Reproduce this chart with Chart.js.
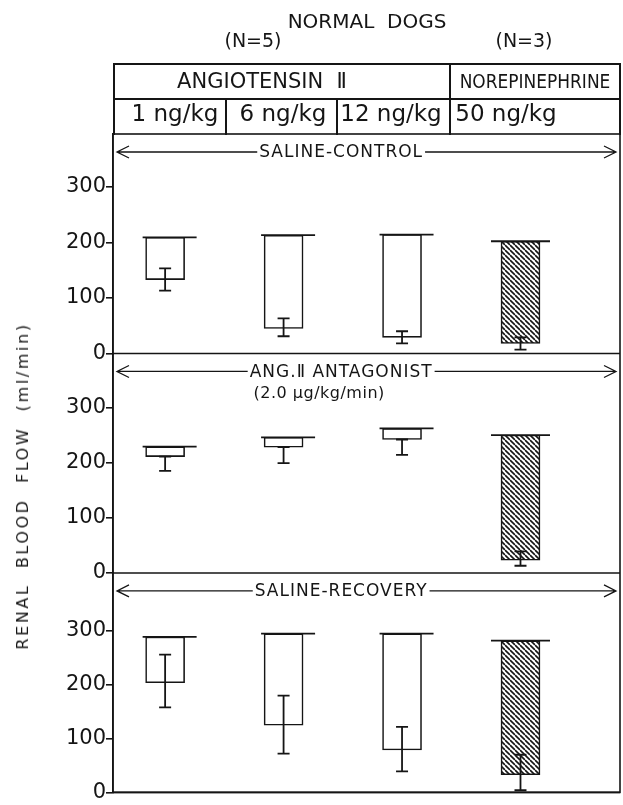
<!DOCTYPE html>
<html>
<head>
<meta charset="utf-8">
<script src="https://cdn.jsdelivr.net/npm/chart.js@4/dist/chart.umd.min.js"></script>
<style>
  body { margin: 0; background: #fff; }
  #wrap { position: relative; width: 623px; height: 805px; overflow: hidden; font-family: "DejaVu Sans", sans-serif; color: #151515; }
  #flow { position: absolute; left: 0; top: 0; }
  .c { position: absolute; white-space: pre; line-height: 1; transform: translate(-50%, -50%); }
  .ln { position: absolute; background: #151515; }
</style>
</head>
<body>
<div id="wrap">
  <canvas id="flow" width="623" height="805"></canvas>

  <div class="c" style="left:367px; top:21px; font-size:20px;">NORMAL  DOGS</div>
  <div class="c" style="left:253px; top:40px; font-size:19px;">(N=5)</div>
  <div class="c" style="left:524px; top:40px; font-size:19px;">(N=3)</div>

  <div class="ln" style="left:113px; top:63px; width:507px; height:1.5px;"></div>
  <div class="ln" style="left:113px; top:98px; width:507px; height:1.5px;"></div>
  <div class="ln" style="left:113px; top:63px; width:1.5px; height:72px;"></div>
  <div class="ln" style="left:619px; top:63px; width:1.5px; height:72px;"></div>
  <div class="ln" style="left:449px; top:63px; width:1.5px; height:72px;"></div>
  <div class="ln" style="left:225px; top:98px; width:1.5px; height:37px;"></div>
  <div class="ln" style="left:336px; top:98px; width:1.5px; height:37px;"></div>

  <div class="c" style="left:262px; top:81px; font-size:21px;">ANGIOTENSIN  Ⅱ</div>
  <div class="c" style="left:535px; top:81px; font-size:20px; transform:translate(-50%,-50%) scaleX(0.85);">NOREPINEPHRINE</div>

  <div class="c" style="left:23px; top:486px; font-size:16px; letter-spacing:2.6px; transform:translate(-50%,-50%) rotate(-90deg);">RENAL  BLOOD  FLOW  (ml/min)</div>
</div>

<script>
var ink = "#151515";

var doses = ["1 ng/kg", "6 ng/kg", "12 ng/kg", "50 ng/kg"];
var panelTitles = ["SALINE-CONTROL", "ANG.Ⅱ ANTAGONIST", "SALINE-RECOVERY"];
var antagonistDose = "(2.0 µg/kg/min)";
var yTicks = [0, 100, 200, 300];

// renal blood flow, ml/min: before infusion (bar top) and during infusion (bar bottom)
var controlBefore = [209, 213, 214, 202];
var controlDuring = [133, 45, 29, 18];
var controlErrLow = [113, 31, 18, 7];
var controlErrHigh = [153, 63, 40, 29];

var antagBefore = [229, 246, 262, 250];
var antagDuring = [211, 228, 242, 23];
var antagErrLow = [185, 199, 214, 13];
var antagErrHigh = [211, 228, 242, 39];

var recovBefore = [289, 295, 295, 282];
var recovDuring = [204, 125, 79, 33];
var recovErrLow = [158, 72, 39, 4];
var recovErrHigh = [256, 180, 122, 70];

// dose labels in the header row
var doseCenters = [175, 283, 391, 506];
doses.forEach(function(d, i) {
  var el = document.createElement("div");
  el.className = "c";
  el.style.left = doseCenters[i] + "px";
  el.style.top = "113px";
  el.style.fontSize = "23px";
  el.textContent = d;
  document.getElementById("wrap").appendChild(el);
});

function hatch() {
  var c = document.createElement("canvas");
  c.width = c.height = 5;
  var g = c.getContext("2d");
  g.fillStyle = "#fff";
  g.fillRect(0, 0, 5, 5);
  g.strokeStyle = ink;
  g.lineWidth = 1.6;
  g.beginPath();
  [-5, 0, 5].forEach(function(k) {
    g.moveTo(0, k);
    g.lineTo(5, 5 + k);
  });
  g.stroke();
  return g.createPattern(c, "repeat");
}
var fills = ["#fff", "#fff", "#fff", hatch()];

function panel(axis, before, during, lo, hi) {
  return {
    yAxisID : axis,
    data : doses.map(function(d, i) { return { x : i, y : [during[i], before[i]] }; }),
    errLow : lo,
    errHigh : hi,
    backgroundColor : fills,
    borderColor : ink,
    borderWidth : 1.6,
    borderSkipped : false,
    barThickness : 39,
    grouped : false
  };
}

function yAxis(max) {
  return {
    type : "linear",
    stack : "flow",
    stackWeight : 1,
    position : "left",
    min : 0,
    max : max,
    border : { display : true, color : ink, width : 1.6 },
    grid : { drawOnChartArea : false, drawTicks : true, tickLength : 7, color : ink, lineWidth : 1.6 },
    ticks : { color : ink, padding : 0, font : { family : "DejaVu Sans", size : 21 } },
    afterBuildTicks : function(s) { s.ticks = yTicks.map(function(v) { return { value : v }; }); },
    afterFit : function(s) { s.width = 83; }
  };
}

var overlay = {
  id : "overlay",
  afterDatasetsDraw : function(chart) {
    var ctx = chart.ctx, area = chart.chartArea;
    ctx.save();
    ctx.strokeStyle = ink;
    ctx.fillStyle = ink;

    chart.data.datasets.forEach(function(ds, d) {
      var ys = chart.scales[ds.yAxisID];
      chart.getDatasetMeta(d).data.forEach(function(bar, i) {
        var half = bar.width / 2;
        var wide = i === 3;
        ctx.lineWidth = 1.8;
        ctx.beginPath();
        ctx.moveTo(bar.x - half - (wide ? 10 : 3), bar.y);
        ctx.lineTo(bar.x + half + (wide ? 10 : 12), bar.y);
        ctx.stroke();

        var pLo = ys.getPixelForValue(ds.errLow[i]);
        var pHi = ys.getPixelForValue(ds.errHigh[i]);
        ctx.beginPath();
        ctx.moveTo(bar.x, pLo);
        ctx.lineTo(bar.x, pHi);
        ctx.moveTo(bar.x - 6, pLo);
        ctx.lineTo(bar.x + 6, pLo);
        ctx.moveTo(bar.x - 6, pHi);
        ctx.lineTo(bar.x + 6, pHi);
        ctx.stroke();
      });
    });

    ctx.lineWidth = 1.6;
    ctx.strokeRect(area.left, area.top, area.width, area.height);

    ctx.textAlign = "center";
    ctx.textBaseline = "middle";
    ["y1", "y2", "y3"].forEach(function(id, p) {
      var s = chart.scales[id];
      ctx.lineWidth = 1.6;
      ctx.beginPath();
      ctx.moveTo(area.left, s.bottom);
      ctx.lineTo(area.right, s.bottom);
      ctx.stroke();

      ctx.font = "17px 'DejaVu Sans'";
      ctx.letterSpacing = "1px";
      var y = s.top + 18;
      var cx = area.left + area.width * 0.45;
      var w = ctx.measureText(panelTitles[p]).width;
      var l = area.left + 4, r = area.right - 4;
      ctx.lineWidth = 1.3;
      ctx.beginPath();
      ctx.moveTo(l, y); ctx.lineTo(cx - w / 2 - 2, y);
      ctx.moveTo(cx + w / 2 + 2, y); ctx.lineTo(r, y);
      ctx.moveTo(l + 12, y - 6); ctx.lineTo(l, y); ctx.lineTo(l + 12, y + 6);
      ctx.moveTo(r - 12, y - 6); ctx.lineTo(r, y); ctx.lineTo(r - 12, y + 6);
      ctx.stroke();
      ctx.fillText(panelTitles[p], cx, y + 1);
      if (p === 1) {
        ctx.font = "16px 'DejaVu Sans'";
        ctx.letterSpacing = "0.5px";
        ctx.fillText(antagonistDose, cx - 22, y + 22);
      }
    });
    ctx.restore();
  }
};

var chart = new Chart(document.getElementById("flow"), {
  type : "bar",
  data : {
    datasets : [
      panel("y1", controlBefore, controlDuring, controlErrLow, controlErrHigh),
      panel("y2", antagBefore, antagDuring, antagErrLow, antagErrHigh),
      panel("y3", recovBefore, recovDuring, recovErrLow, recovErrHigh)
    ]
  },
  options : {
    responsive : false,
    animation : false,
    devicePixelRatio : 1,
    layout : { padding : { left : 30, right : 3, top : 134, bottom : 5 } },
    plugins : { legend : { display : false }, tooltip : { enabled : false } },
    scales : {
      x : { type : "linear", min : -0.44, max : 3.84, offset : false, display : false },
      // left stacked axes are laid out last-first, so the bottom panel is listed first
      y3 : yAxis(408),
      y2 : yAxis(398),
      y1 : yAxis(395)
    }
  },
  plugins : [overlay]
});
</script>
</body>
</html>
